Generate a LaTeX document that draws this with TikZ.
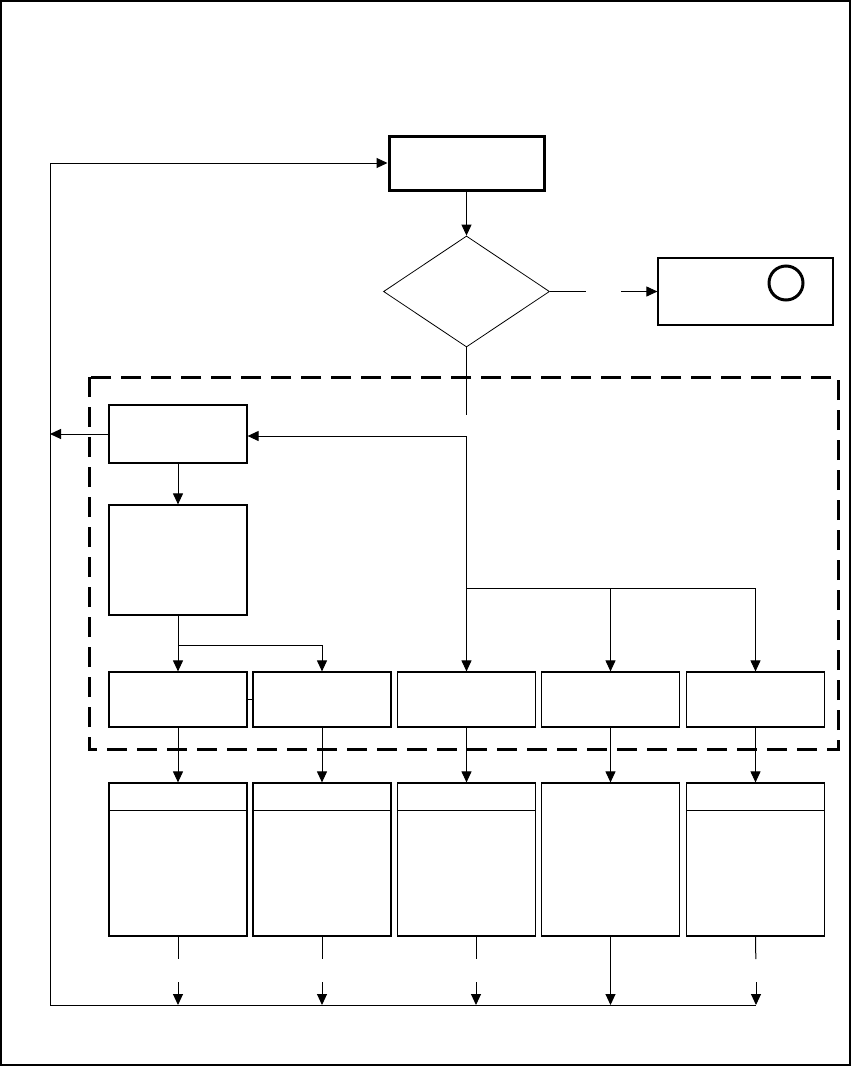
\documentclass[tikz,border=0pt]{standalone}
\usepackage{amsmath}
\usepackage{amssymb}
\usetikzlibrary{arrows.meta,shapes.geometric}

\tikzset{
  box/.style={draw, line width=1.2pt, minimum width=138pt, inner sep=0pt},
  gapnode/.style={inner sep=0pt, outer sep=0pt},
  >={Triangle[width=10pt,length=11pt]}
}

\begin{document}
\begin{tikzpicture}[x=1pt,y=-1pt,line width=1pt]
    \useasboundingbox (0,0) rectangle (852,1066);
    \draw[line width=1.5pt] (1,1) rectangle (850,1065);
    \draw[line width=3pt, dash pattern=on 20pt off 10pt] (89,377) rectangle (838,749);
    \node[draw, line width=3pt, minimum width=155pt, minimum height=54pt] (start) at (466.5,163) {};
    \node[draw, diamond, line width=0.8pt, minimum width=166pt, minimum height=111pt,
      inner sep=0pt] (dec) at (466.5,291.5) {};
    \node[draw, line width=1.2pt, minimum width=175pt, minimum height=67pt] (stop) at (745.5,291.5) {};
    \node[draw, circle, line width=3pt, minimum size=34pt, inner sep=0pt] (ring) at (786,283) {};
    \node[gapnode, minimum width=35pt] (g0) at (603.5,291.5) {};
    \node[gapnode, minimum height=21pt] (gb) at (466.5,425.5) {};
    \node[box, minimum height=58pt] (rev) at (178,434) {};
    \node[box, minimum height=110pt] (plan) at (178,560) {};
    \node[box, minimum height=55pt] (a1) at (178,699.5) {};
    \node[box, minimum height=55pt] (a2) at (322,699.5) {};
    \node[box, minimum height=55pt] (a3) at (466.5,699.5) {};
    \node[box, minimum height=55pt] (a4) at (610.5,699.5) {};
    \node[box, minimum height=55pt] (a5) at (755.5,699.5) {};
    \node[box, minimum height=153pt] (b1) at (178,859.5) {};
    \node[box, minimum height=153pt] (b2) at (322,859.5) {};
    \node[box, minimum height=153pt] (b3) at (466.5,859.5) {};
    \node[box, minimum height=153pt] (b4) at (610.5,859.5) {};
    \node[box, minimum height=153pt] (b5) at (755.5,859.5) {};
    \foreach \b in {b1,b2,b3,b5}
      \draw[line width=1.2pt] ([yshift=-28pt]\b.north west) -- ([yshift=-28pt]\b.north east);
    \node[gapnode, minimum height=23pt] (g1) at (178,970.5) {};
    \node[gapnode, minimum height=23pt] (g2) at (322,970.5) {};
    \node[gapnode, minimum height=23pt] (g3) at (476,970.5) {};
    \node[gapnode, minimum height=23pt] (g5) at (756,970.5) {};
    \coordinate (lb) at (50,1005);
    \coordinate (rb) at (756,1005);
    \coordinate (j1) at (gb.south);
    \coordinate (j2) at (466.5,588);
    \coordinate (j3) at (178,645);
    \draw[->] (lb) |- (start.west);
    \draw (lb) -- (rb);
    \draw[->] (start) -- (dec);
    \draw (dec.east) -- (g0); \draw[->] (g0) -- (stop.west);
    \draw (dec.south) -- (gb);
    \draw[->] (j1) -- (j1 -| rev.east);
    \draw (j1) -- (j2);
    \draw[->] (j2) -- (a3);
    \draw[->] (j2) -| (a4);
    \draw[->] (j2) -| (a5);
    \draw[->] (rev.west) -- (rev.west -| lb);
    \draw[->] (rev) -- (plan);
    \draw[->] (plan) -- (a1);
    \draw[->] (j3) -| (a2);
    \draw (a1) -- (a2);
    \foreach \i in {1,...,5}
      \draw[->] (a\i) -- (b\i);
    \foreach \i in {1,2,5}
      {\draw (b\i.south) -- (g\i); \draw[->] (g\i) -- (g\i |- lb);}
    \draw (g3 |- b3.south) -- (g3); \draw[->] (g3) -- (g3 |- lb);
    \draw[->] (b4) -- (b4 |- lb);
\end{tikzpicture}
\end{document}
